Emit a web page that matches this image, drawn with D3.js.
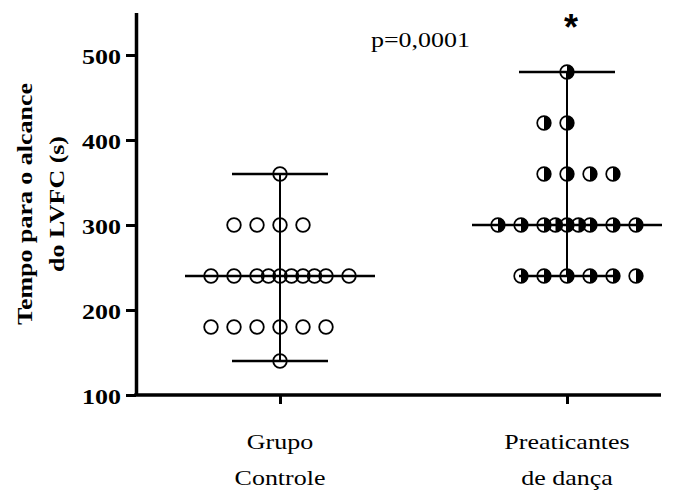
<!DOCTYPE html>
<html>
<head>
<meta charset="utf-8">
<script src="https://cdn.jsdelivr.net/npm/d3@7"></script>
<style>
  html, body { margin: 0; padding: 0; background: #fff; }
  svg { display: block; }
  text { font-family: "Liberation Serif", "Times New Roman", serif; fill: #000; }
</style>
</head>
<body>
<svg id="chart" width="699" height="494"></svg>
<script>
// ---- data ----
const categories = ["Grupo Controle", "Preaticantes de dança"];
const categoryLines = [["Grupo", "Controle"], ["Preaticantes", "de dança"]];
// individual values (seconds) with their horizontal slot in the scatter column
const controlValues = [360, 300, 300, 300, 300,
  240, 240, 240, 240, 240, 240, 240, 240, 240, 240,
  180, 180, 180, 180, 180, 180, 140];
const controlSlots = [0, -4, -2, 0, 2,
  -6, -4, -2, -1, 0, 1, 2, 3, 4, 6,
  -6, -4, -2, 0, 2, 4, 0];
const danceValues = [480, 420, 420, 360, 360, 360, 360,
  300, 300, 300, 300, 300, 300, 300, 300, 300,
  240, 240, 240, 240, 240, 240];
const danceSlots = [0, -2, 0, -2, 0, 2, 4,
  -6, -4, -2, -1, 0, 1, 2, 4, 6,
  -4, -2, 0, 2, 4, 6];
const medians = [240, 300];
const rangeMin = [140, 240];
const rangeMax = [360, 480];
const yTicks = [100, 200, 300, 400, 500];
const yLabelLines = ["Tempo para o alcance", "do LVFC (s)"];
const pText = "p=0,0001";
const starText = "*";

// ---- layout ----
const svg = d3.select("#chart");
const axisX = 136, axisY = 395, axisRight = 661;
const stretch = 1.18;

const y = d3.scaleLinear().domain([100, 550]).range([395, 12.5]);
const x = d3.scalePoint().domain(categories).range([280, 567]);
const slot = d3.scaleLinear().domain([0, 1]).range([0, 11.5]);

const gPlot = svg.append("g");

// markers
const r = 6.8;
const controlPts = controlValues.map((v, i) => ({v, s: controlSlots[i]}));
const dancePts = danceValues.map((v, i) => ({v, s: danceSlots[i]}));

gPlot.selectAll("circle.ctrl").data(controlPts).join("circle")
  .attr("class", "ctrl")
  .attr("cx", d => x(categories[0]) + slot(d.s))
  .attr("cy", d => y(d.v))
  .attr("r", r)
  .attr("fill", "none")
  .attr("stroke", "#000")
  .attr("stroke-width", 1.8);

const half = d3.arc().innerRadius(0).outerRadius(r).startAngle(0).endAngle(Math.PI);
const dg = gPlot.selectAll("g.dance").data(dancePts).join("g")
  .attr("class", "dance")
  .attr("transform", d => `translate(${x(categories[1]) + slot(d.s)},${y(d.v)})`);
dg.append("path").attr("d", half()).attr("fill", "#000");
dg.append("circle").attr("r", r).attr("fill", "none").attr("stroke", "#000").attr("stroke-width", 1.7);

// median and range lines
categories.forEach((c, i) => {
  const cx = x(c);
  gPlot.append("line").attr("x1", cx).attr("x2", cx)
    .attr("y1", y(rangeMin[i])).attr("y2", y(rangeMax[i]))
    .attr("stroke", "#000").attr("stroke-width", 2);
  gPlot.append("line").attr("x1", cx - 95).attr("x2", cx + 95)
    .attr("y1", y(medians[i])).attr("y2", y(medians[i]))
    .attr("stroke", "#000").attr("stroke-width", 2.5);
  [rangeMin[i], rangeMax[i]].forEach(v => {
    gPlot.append("line").attr("x1", cx - 48).attr("x2", cx + 48)
      .attr("y1", y(v)).attr("y2", y(v))
      .attr("stroke", "#000").attr("stroke-width", 2.5);
  });
});

// y axis
const gy = svg.append("g").attr("transform", `translate(${axisX},0)`)
  .call(d3.axisLeft(y).tickValues(yTicks).tickSize(10).tickSizeOuter(0).tickPadding(4));
gy.select(".domain").attr("stroke-width", 3.5);
gy.selectAll(".tick line").attr("stroke-width", 3);
gy.selectAll(".tick text")
  .attr("x", null).attr("dy", null)
  .attr("dominant-baseline", "central")
  .attr("transform", "translate(-15,1) scale(" + stretch + ",1)")
  .style("font-family", '"Liberation Serif", serif')
  .style("font-weight", "bold")
  .style("font-size", "22px");

// x axis
const gx = svg.append("g").attr("transform", `translate(0,${axisY})`)
  .call(d3.axisBottom(x).tickSize(9).tickSizeOuter(0).tickFormat(""));
gx.select(".domain").remove();
gx.selectAll(".tick line").attr("stroke-width", 3);
svg.append("line").attr("x1", axisX - 1.75).attr("x2", axisRight)
  .attr("y1", axisY).attr("y2", axisY)
  .attr("stroke", "#000").attr("stroke-width", 3.5);

// category labels
categories.forEach((c, i) => {
  categoryLines[i].forEach((t, j) => {
    svg.append("text")
      .attr("transform", `translate(${x(c)},${449 + j * 36}) scale(${stretch},1)`)
      .attr("text-anchor", "middle")
      .style("font-size", "22px")
      .text(t);
  });
});

// y label
yLabelLines.forEach((t, j) => {
  svg.append("text")
    .attr("transform", `translate(${32 + j * 32},204) rotate(-90) scale(${stretch},1)`)
    .attr("text-anchor", "middle")
    .style("font-size", "22px")
    .style("font-weight", "bold")
    .text(t);
});

// annotations
svg.append("text")
  .attr("transform", `translate(371,47) scale(${stretch},1)`)
  .style("font-size", "22px")
  .text(pText);
svg.append("text")
  .attr("transform", `translate(571,40)`)
  .attr("text-anchor", "middle")
  .style("font-family", '"Liberation Sans", Arial, sans-serif')
  .style("font-size", "36px")
  .style("font-weight", "bold")
  .text(starText);
</script>
</body>
</html>
